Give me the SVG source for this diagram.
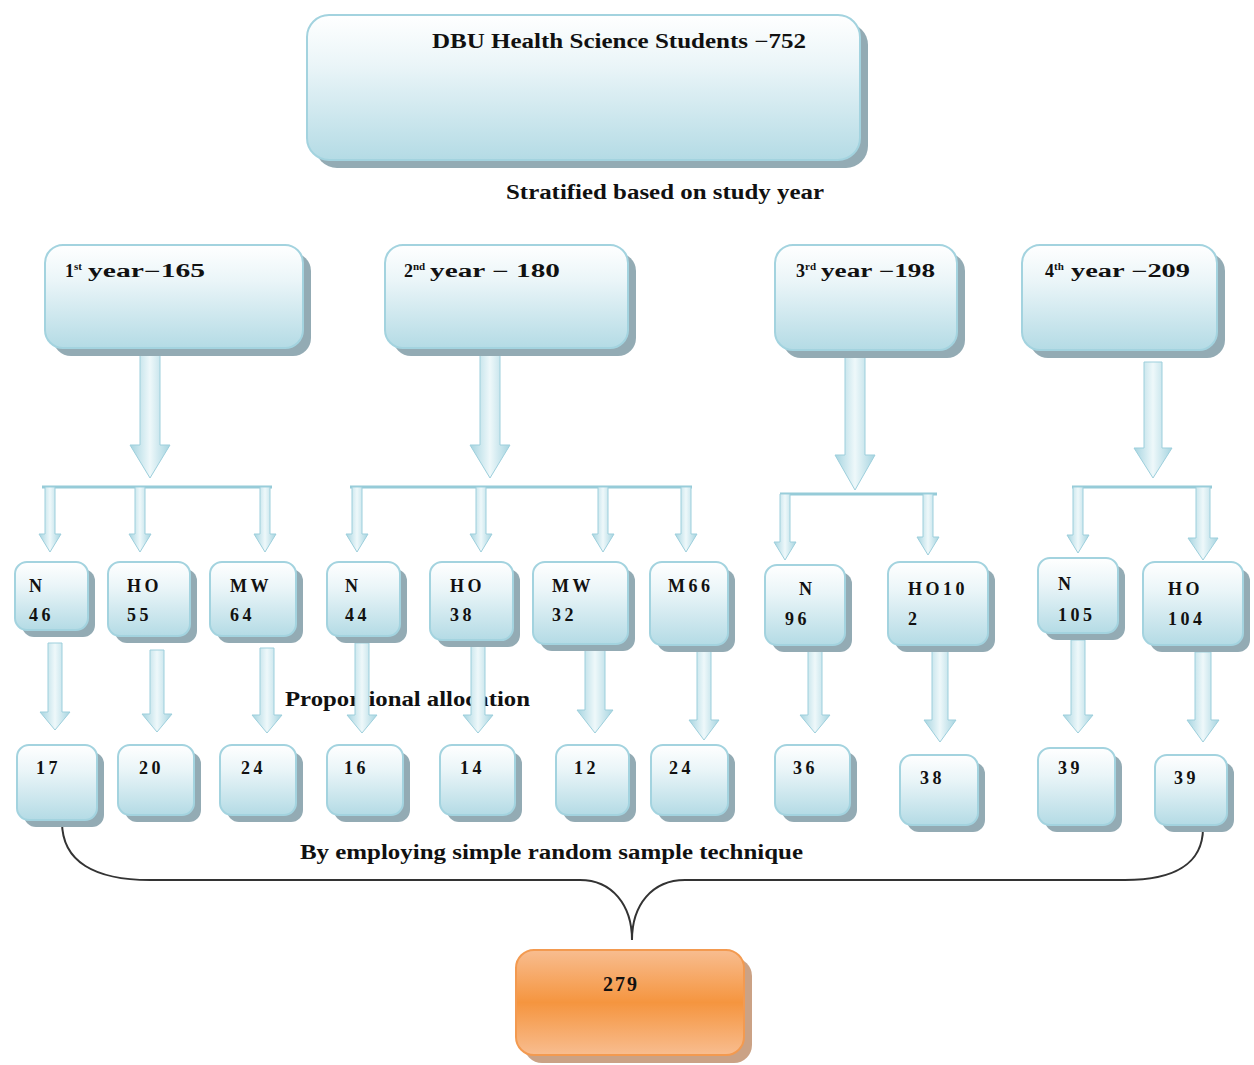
<svg xmlns="http://www.w3.org/2000/svg" width="1254" height="1065" viewBox="0 0 1254 1065">
<defs>
<linearGradient id="gBlue" x1="0" y1="0" x2="0" y2="1">
<stop offset="0" stop-color="#ffffff"/>
<stop offset="0.35" stop-color="#eaf5f8"/>
<stop offset="1" stop-color="#b4dbe5"/>
</linearGradient>
<linearGradient id="gOrange" x1="0" y1="0" x2="0" y2="1">
<stop offset="0" stop-color="#f8bd90"/>
<stop offset="0.5" stop-color="#f5953f"/>
<stop offset="1" stop-color="#f8bd90"/>
</linearGradient>
<linearGradient id="gArrow" x1="0" y1="0" x2="1" y2="0">
<stop offset="0" stop-color="#a6d4e0"/>
<stop offset="0.5" stop-color="#eef8fa"/>
<stop offset="1" stop-color="#a6d4e0"/>
</linearGradient>
<style>
.box{fill:url(#gBlue);stroke:#a3d3df;stroke-width:2}
.sh{fill:#93abb4}
.obox{fill:url(#gOrange);stroke:#f39a50;stroke-width:2}
.osh{fill:#cba285}
.arr{fill:url(#gArrow);stroke:#9dcfdc;stroke-width:1}
.br{fill:none;stroke:#96cbd8;stroke-width:3}
.brace{fill:none;stroke:#333;stroke-width:2}
text{font-family:"Liberation Serif","Times New Roman",serif;font-weight:bold;fill:#111}
.t18{font-size:20px}
.t16{font-size:18px;letter-spacing:3.5px}
.ty{font-size:18px}
.sup{font-size:11px}
</style>
</defs>

<!-- free labels -->
<text class="t18" x="506" y="199" textLength="318" lengthAdjust="spacingAndGlyphs">Stratified based on study year</text>
<text class="t18" x="285" y="706" textLength="245" lengthAdjust="spacingAndGlyphs">Proportional allocation</text>
<text class="t18" x="300" y="859" textLength="503" lengthAdjust="spacingAndGlyphs">By employing simple random sample technique</text>

<g id="connectors">
<path class="arr" d="M140 350 L160 350 L160 445 L170 445 L150 478 L130 445 L140 445 Z"/>
<path class="arr" d="M480 352 L500 352 L500 445 L510 445 L490 478 L470 445 L480 445 Z"/>
<path class="arr" d="M845 352 L865 352 L865 455 L875 455 L855 490 L835 455 L845 455 Z"/>
<path class="arr" d="M1144 362 L1162 362 L1162 448 L1172 448 L1153 478 L1134 448 L1144 448 Z"/>
<path class="br" d="M42 487 L272 487"/>
<path class="br" d="M350 487 L692 487"/>
<path class="br" d="M780 494 L937 494"/>
<path class="br" d="M1072 487 L1212 487"/>
<path class="arr" d="M45 487 L55 487 L55 534 L61 534 L50 552 L39 534 L45 534 Z"/>
<path class="arr" d="M135 487 L145 487 L145 534 L151 534 L140 552 L129 534 L135 534 Z"/>
<path class="arr" d="M260 487 L270 487 L270 534 L276 534 L265 552 L254 534 L260 534 Z"/>
<path class="arr" d="M352 487 L362 487 L362 534 L368 534 L357 552 L346 534 L352 534 Z"/>
<path class="arr" d="M476 487 L486 487 L486 534 L492 534 L481 552 L470 534 L476 534 Z"/>
<path class="arr" d="M598 487 L608 487 L608 534 L614 534 L603 552 L592 534 L598 534 Z"/>
<path class="arr" d="M681 487 L691 487 L691 534 L697 534 L686 552 L675 534 L681 534 Z"/>
<path class="arr" d="M780 494 L790 494 L790 542 L796 542 L785 560 L774 542 L780 542 Z"/>
<path class="arr" d="M923 494 L933 494 L933 537 L939 537 L928 555 L917 537 L923 537 Z"/>
<path class="arr" d="M1073 487 L1083 487 L1083 535 L1089 535 L1078 553 L1067 535 L1073 535 Z"/>
<path class="arr" d="M1196 487 L1210 487 L1210 538 L1218 538 L1203 560 L1188 538 L1196 538 Z"/>
<path class="arr" d="M48 643 L62 643 L62 712 L70 712 L55 730 L40 712 L48 712 Z"/>
<path class="arr" d="M150 650 L164 650 L164 714 L172 714 L157 732 L142 714 L150 714 Z"/>
<path class="arr" d="M260 648 L274 648 L274 715 L282 715 L267 733 L252 715 L260 715 Z"/>
<path class="arr" d="M355 643 L369 643 L369 715 L377 715 L362 733 L347 715 L355 715 Z"/>
<path class="arr" d="M471 645 L485 645 L485 715 L493 715 L478 733 L463 715 L471 715 Z"/>
<path class="arr" d="M585 648 L605 648 L605 710 L613 710 L595 733 L577 710 L585 710 Z"/>
<path class="arr" d="M697 650 L711 650 L711 720 L719 720 L704 740 L689 720 L697 720 Z"/>
<path class="arr" d="M808 650 L822 650 L822 715 L830 715 L815 733 L800 715 L808 715 Z"/>
<path class="arr" d="M932 645 L948 645 L948 720 L956 720 L940 742 L924 720 L932 720 Z"/>
<path class="arr" d="M1071 640 L1085 640 L1085 715 L1093 715 L1078 733 L1063 715 L1071 715 Z"/>
<path class="arr" d="M1195 652 L1211 652 L1211 720 L1219 720 L1203 742 L1187 720 L1195 720 Z"/>
<path class="brace" d="M62 822 C62 862 95 880 150 880 L580 880 C612 880 632 905 632 940"/>
<path class="brace" d="M1203 828 C1203 865 1172 880 1125 880 L685 880 C652 880 632 905 632 940"/>
</g>

<g id="n-total-students">
<rect class="sh" x="315" y="23" width="553" height="145" rx="22"/>
<rect class="box" x="307" y="15" width="553" height="145" rx="22"/>
<text class="t18" x="432" y="48" textLength="374" lengthAdjust="spacingAndGlyphs">DBU Health Science Students −752</text>
</g>

<g id="n-year1">
<rect class="sh" x="53" y="253" width="258" height="103" rx="18"/>
<rect class="box" x="45" y="245" width="258" height="103" rx="18"/>
<text class="ty" x="65" y="277">1<tspan class="sup" dy="-7">st</tspan><tspan dy="7" x="88" textLength="117" lengthAdjust="spacingAndGlyphs">year−165</tspan></text>
</g>
<g id="n-year2">
<rect class="sh" x="393" y="253" width="243" height="103" rx="18"/>
<rect class="box" x="385" y="245" width="243" height="103" rx="18"/>
<text class="ty" x="404" y="277">2<tspan class="sup" dy="-7">nd</tspan><tspan dy="7" x="430" textLength="130" lengthAdjust="spacingAndGlyphs">year − 180</tspan></text>
</g>
<g id="n-year3">
<rect class="sh" x="783" y="253" width="182" height="105" rx="18"/>
<rect class="box" x="775" y="245" width="182" height="105" rx="18"/>
<text class="ty" x="796" y="277">3<tspan class="sup" dy="-7">rd</tspan><tspan dy="7" x="821" textLength="114" lengthAdjust="spacingAndGlyphs">year −198</tspan></text>
</g>
<g id="n-year4">
<rect class="sh" x="1030" y="253" width="195" height="105" rx="18"/>
<rect class="box" x="1022" y="245" width="195" height="105" rx="18"/>
<text class="ty" x="1045" y="277">4<tspan class="sup" dy="-7">th</tspan><tspan dy="7" x="1071" textLength="119" lengthAdjust="spacingAndGlyphs">year −209</tspan></text>
</g>

<g id="n-y1-n">
<rect class="sh" x="22" y="569" width="73" height="68" rx="12"/>
<rect class="box" x="15" y="562" width="73" height="68" rx="12"/>
<text class="t16" x="29" y="592">N</text><text class="t16" x="29" y="621">46</text>
</g>
<g id="n-y1-ho">
<rect class="sh" x="115" y="569" width="82" height="74" rx="12"/>
<rect class="box" x="108" y="562" width="82" height="74" rx="12"/>
<text class="t16" x="127" y="592">HO</text><text class="t16" x="127" y="621">55</text>
</g>
<g id="n-y1-mw">
<rect class="sh" x="217" y="569" width="86" height="74" rx="12"/>
<rect class="box" x="210" y="562" width="86" height="74" rx="12"/>
<text class="t16" x="230" y="592">MW</text><text class="t16" x="230" y="621">64</text>
</g>
<g id="n-y2-n">
<rect class="sh" x="334" y="569" width="73" height="74" rx="12"/>
<rect class="box" x="327" y="562" width="73" height="74" rx="12"/>
<text class="t16" x="345" y="592">N</text><text class="t16" x="345" y="621">44</text>
</g>
<g id="n-y2-ho">
<rect class="sh" x="437" y="569" width="83" height="78" rx="12"/>
<rect class="box" x="430" y="562" width="83" height="78" rx="12"/>
<text class="t16" x="450" y="592">HO</text><text class="t16" x="450" y="621">38</text>
</g>
<g id="n-y2-mw">
<rect class="sh" x="540" y="569" width="95" height="82" rx="12"/>
<rect class="box" x="533" y="562" width="95" height="82" rx="12"/>
<text class="t16" x="552" y="592">MW</text><text class="t16" x="552" y="621">32</text>
</g>
<g id="n-y2-m">
<rect class="sh" x="657" y="569" width="78" height="83" rx="12"/>
<rect class="box" x="650" y="562" width="78" height="83" rx="12"/>
<text class="t16" x="668" y="592">M66</text>
</g>
<g id="n-y3-n">
<rect class="sh" x="772" y="572" width="80" height="80" rx="12"/>
<rect class="box" x="765" y="565" width="80" height="80" rx="12"/>
<text class="t16" x="799" y="595">N</text><text class="t16" x="785" y="625">96</text>
</g>
<g id="n-y3-ho">
<rect class="sh" x="895" y="569" width="100" height="83" rx="12"/>
<rect class="box" x="888" y="562" width="100" height="83" rx="12"/>
<text class="t16" x="908" y="595">HO10</text><text class="t16" x="908" y="625">2</text>
</g>
<g id="n-y4-n">
<rect class="sh" x="1045" y="565" width="80" height="75" rx="12"/>
<rect class="box" x="1038" y="558" width="80" height="75" rx="12"/>
<text class="t16" x="1058" y="590">N</text><text class="t16" x="1058" y="621">105</text>
</g>
<g id="n-y4-ho">
<rect class="sh" x="1150" y="569" width="100" height="83" rx="12"/>
<rect class="box" x="1143" y="562" width="100" height="83" rx="12"/>
<text class="t16" x="1168" y="595">HO</text><text class="t16" x="1168" y="625">104</text>
</g>

<g id="n-s17"><rect class="sh" x="24" y="752" width="80" height="75" rx="12"/><rect class="box" x="17" y="745" width="80" height="75" rx="12"/><text class="t16" x="36" y="774">17</text></g>
<g id="n-s20"><rect class="sh" x="125" y="752" width="76" height="70" rx="12"/><rect class="box" x="118" y="745" width="76" height="70" rx="12"/><text class="t16" x="139" y="774">20</text></g>
<g id="n-s24a"><rect class="sh" x="227" y="752" width="76" height="70" rx="12"/><rect class="box" x="220" y="745" width="76" height="70" rx="12"/><text class="t16" x="241" y="774">24</text></g>
<g id="n-s16"><rect class="sh" x="334" y="752" width="76" height="70" rx="12"/><rect class="box" x="327" y="745" width="76" height="70" rx="12"/><text class="t16" x="344" y="774">16</text></g>
<g id="n-s14"><rect class="sh" x="447" y="752" width="75" height="70" rx="12"/><rect class="box" x="440" y="745" width="75" height="70" rx="12"/><text class="t16" x="460" y="774">14</text></g>
<g id="n-s12"><rect class="sh" x="563" y="752" width="73" height="70" rx="12"/><rect class="box" x="556" y="745" width="73" height="70" rx="12"/><text class="t16" x="574" y="774">12</text></g>
<g id="n-s24b"><rect class="sh" x="658" y="752" width="77" height="70" rx="12"/><rect class="box" x="651" y="745" width="77" height="70" rx="12"/><text class="t16" x="669" y="774">24</text></g>
<g id="n-s36"><rect class="sh" x="782" y="752" width="75" height="70" rx="12"/><rect class="box" x="775" y="745" width="75" height="70" rx="12"/><text class="t16" x="793" y="774">36</text></g>
<g id="n-s38"><rect class="sh" x="907" y="762" width="78" height="70" rx="12"/><rect class="box" x="900" y="755" width="78" height="70" rx="12"/><text class="t16" x="920" y="784">38</text></g>
<g id="n-s39a"><rect class="sh" x="1045" y="755" width="77" height="77" rx="12"/><rect class="box" x="1038" y="748" width="77" height="77" rx="12"/><text class="t16" x="1058" y="774">39</text></g>
<g id="n-s39b"><rect class="sh" x="1162" y="762" width="72" height="70" rx="12"/><rect class="box" x="1155" y="755" width="72" height="70" rx="12"/><text class="t16" x="1174" y="784">39</text></g>

<g id="n-total-sample">
<rect class="osh" x="524" y="958" width="228" height="105" rx="18"/>
<rect class="obox" x="516" y="950" width="228" height="105" rx="18"/>
<text class="t18" x="603" y="991" letter-spacing="2">279</text>
</g>
</svg>
